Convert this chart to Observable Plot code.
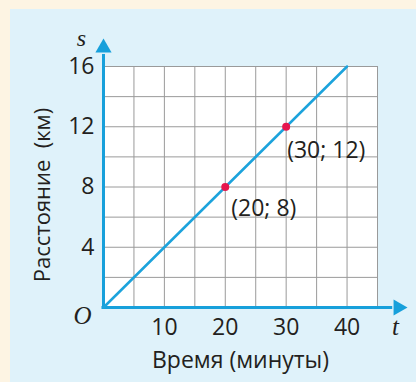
<!DOCTYPE html>
<html>
<head>
<meta charset="utf-8">
<script src="https://cdn.jsdelivr.net/npm/d3@7"></script>
<script src="https://cdn.jsdelivr.net/npm/@observablehq/plot@0.6"></script>
<style>
  html, body { margin: 0; padding: 0; }
  body { width: 416px; height: 382px; background: #fdf4e3; position: relative; overflow: hidden; }
  #panel { position: absolute; left: 10px; top: 9px; width: 406px; height: 373px; background: #dff2fa; }
  #chart { position: absolute; left: 0; top: 0; }
</style>
</head>
<body>
<div id="panel"></div>
<div id="chart"></div>
<script>
// Data
const timeTicks = [10, 20, 30, 40];
const distTicks = [4, 8, 12, 16];
const gridT = [5, 10, 15, 20, 25, 30, 35, 40, 45];
const gridS = [2, 4, 6, 8, 10, 12, 14, 16];
const lineT = [0, 40];
const lineS = [0, 16];
const pointT = [20, 30];
const pointS = [8, 12];
const pointLabels = ["(20; 8)", "(30; 12)"];
const xLabel = "Время (минуты)";
const yLabel = "Расстояние  (км)";

const lineData = lineT.map((t, i) => ({t, s: lineS[i]}));
const pts = pointT.map((t, i) => ({t, s: pointS[i], label: pointLabels[i]}));

const blue = "#17a0db";
const textColor = "#231f20";

const chart = Plot.plot({
  width: 416,
  height: 382,
  marginLeft: 103,
  marginRight: 39,
  marginTop: 66,
  marginBottom: 75,
  x: {domain: [0, 45], axis: null},
  y: {domain: [0, 16], axis: null},
  style: {background: "transparent", fontFamily: "'Open Sans', sans-serif", color: textColor},
  marks: [
    Plot.frame({fill: "white", stroke: "none"}),
    Plot.ruleX(gridT, {y1: 0, y2: 16, stroke: "#9a9a9a", strokeWidth: 1}),
    Plot.ruleY(gridS, {x1: 0, x2: 45, stroke: "#9a9a9a", strokeWidth: 1}),
    // axes
    Plot.ruleY([0], {x1: -0.25, x2: 47.5, stroke: blue, strokeWidth: 3}),
    Plot.ruleX([0], {y1: -0.1, y2: 16.8, stroke: blue, strokeWidth: 3}),
    Plot.dot([{t: 48.4, s: 0}], {x: "t", y: "s", symbol: "triangle", r: 6, fill: blue, stroke: "none", rotate: 90}),
    Plot.dot([{t: 0, s: 17.24}], {x: "t", y: "s", symbol: "triangle", r: 6, fill: blue, stroke: "none"}),
    // line
    Plot.line(lineData, {x: "t", y: "s", stroke: "#1ca3dc", strokeWidth: 2.5}),
    Plot.dot(pts, {x: "t", y: "s", r: 4, fill: "#e6164e", stroke: "none"}),
    Plot.text([pts[0]], {x: "t", y: "s", text: "label", textAnchor: "start", dx: 6, dy: 22, fontSize: 23, fill: textColor}),
    Plot.text([pts[1]], {x: "t", y: "s", text: "label", textAnchor: "start", dx: 1, dy: 24, fontSize: 23, fill: textColor}),
    // tick labels
    Plot.text(distTicks, {x: 0, y: d => d, text: d => String(d), textAnchor: "end", dx: -9, fontSize: 23, fill: textColor}),
    Plot.text(timeTicks, {x: d => d, y: 0, text: d => String(d), dy: 20, fontSize: 23, fill: textColor}),
    // axis letters
    Plot.text(["O"], {x: 0, y: 0, text: d => d, dx: -21, dy: 8, fontSize: 25, fontStyle: "italic", fontFamily: "'Liberation Serif', serif", fill: textColor}),
    Plot.text(["s"], {x: 0, y: 16, text: d => d, dx: -22, dy: -28, fontSize: 24, fontStyle: "italic", fontFamily: "'Liberation Serif', serif", fill: textColor}),
    Plot.text(["t"], {x: 45, y: 0, text: d => d, dx: 18, dy: 19, fontSize: 25, fontStyle: "italic", fontFamily: "'Liberation Serif', serif", fill: textColor}),
    // axis titles
    Plot.text([xLabel], {x: 22.5, y: 0, text: d => d, dx: 0, dy: 53, fontSize: 23, fill: textColor}),
    Plot.text([yLabel], {x: 0, y: 8, text: d => d, dx: -61, dy: 8, rotate: -90, fontSize: 22, fill: textColor})
  ]
});
document.getElementById("chart").appendChild(chart);
</script>
</body>
</html>
